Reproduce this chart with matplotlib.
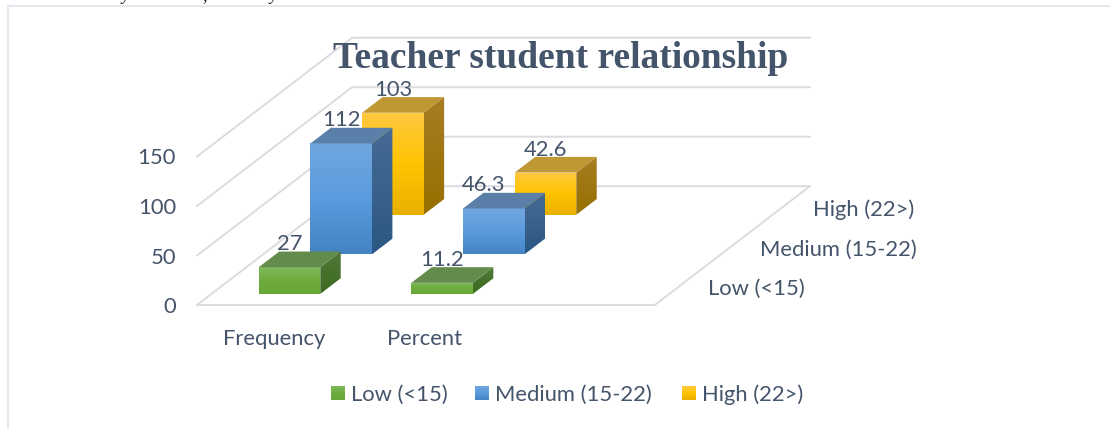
"""Teacher student relationship, oblique 3D column chart."""
import matplotlib
matplotlib.use('Agg')
import matplotlib.pyplot as plt
import numpy as np
from matplotlib.colors import LinearSegmentedColormap
from matplotlib.patches import Polygon

# Data
categories = ['Frequency', 'Percent']
series_names = ['Low (<15)', 'Medium (15-22)', 'High (22>)']
low = [27, 11.2]
medium = [112, 46.3]
high = [103, 42.6]
value_ticks = [0, 50, 100, 150]

# Colours: front gradient (top, mid, bottom), roof, side gradient (top, bottom)
front_cols = [['#80B85C', '#6DAC3D', '#68A836'],
              ['#70A6E0', '#5A9BDD', '#4484C4'],
              ['#FFC83F', '#FFC400', '#E9B000']]
roof_cols = ['#638B4C', '#5A7FA9', '#BF9733']
side_cols = [['#4F7838', '#3D6A20'], ['#466B94', '#2B5782'],
             ['#A67D22', '#967000']]
TEXT = '#44546A'
GRID = '#DCDCE0'
FONT = 'Lato'
FSIZE = 15.8
TEXT_DY = 2  # Lato sits a bit high with va='center'

# Projection of the scene to image pixels
X0, Y0 = 197, 305
CAT_DX = 152.6
ROW_DX, ROW_DY = 51.7, 39.6
V_SCALE = 0.99
BAR_X, BAR_W = 0.31, 0.403
BAR_Z, BAR_D = 0.28, 0.395
FLOOR_W = 3.0
N_ROWS = 3


def proj(x, z, v=0):
    """Category position x, row position z and value v to pixels."""
    return (X0 + x * CAT_DX + z * ROW_DX, Y0 - z * ROW_DY - v * V_SCALE)


def shade(ax, pts, colors, zorder):
    """Polygon filled with a vertical gradient."""
    pts = np.array(pts)
    cmap = LinearSegmentedColormap.from_list('g', colors)
    grad = np.linspace(0, 1, 64).reshape(-1, 1)
    im = ax.imshow(grad, cmap=cmap, aspect='auto', zorder=zorder,
                   extent=(pts[:, 0].min(), pts[:, 0].max(),
                           pts[:, 1].max(), pts[:, 1].min()))
    im.set_clip_path(Polygon(pts, closed=True, transform=ax.transData))


def bar(ax, x, z, v, s, zorder):
    """One column: front, roof and side face."""
    x1, z1 = x + BAR_W, z + BAR_D
    front = [proj(x, z, 0), proj(x1, z, 0), proj(x1, z, v), proj(x, z, v)]
    side = [proj(x1, z, 0), proj(x1, z1, 0), proj(x1, z1, v), proj(x1, z, v)]
    roof = [proj(x, z, v), proj(x1, z, v), proj(x1, z1, v), proj(x, z1, v)]
    shade(ax, front, front_cols[s], zorder)
    shade(ax, side, side_cols[s], zorder)
    ax.add_patch(Polygon(roof, closed=True, fc=roof_cols[s], ec='none',
                         zorder=zorder))


fig = plt.figure(figsize=(11.1, 4.29), dpi=100)
ax = fig.add_axes([0, 0, 1, 1])
ax.axis('off')

# Outer frame of the chart area
ax.plot([8, 8, 1110], [429, 5.5, 5.5], color='#E0E4EC', lw=1.2, zorder=1)

# Cut off line of the page text above the chart
for tx, tt in zip([122, 202, 269], ['y', ',', 'y']):
    ax.text(tx, 0, tt, family='Liberation Serif', style='italic',
            fontsize=13, color='#222222', ha='left', va='baseline',
            clip_on=True)

# Walls and floor
for t in value_ticks:
    ax.plot(*zip(proj(0, 0, t), proj(0, N_ROWS, t), proj(FLOOR_W, N_ROWS, t)),
            color=GRID, lw=1.4, zorder=1, solid_joinstyle='miter')
    ax.text(176, proj(0, 0, t)[1] + TEXT_DY, str(t), ha='right', va='center',
            family=FONT, fontsize=FSIZE, color=TEXT)
ax.plot(*zip(proj(0, 0), proj(FLOOR_W, 0), proj(FLOOR_W, N_ROWS)),
        color=GRID, lw=1.4, zorder=1, solid_joinstyle='miter')

# Columns, back row first
rows = [low, medium, high]
for c in range(len(categories)):
    for s in reversed(range(len(rows))):
        bar(ax, c + BAR_X, s + BAR_Z, rows[s][c], s, 5 + (2 - s) + 3 * c)

# Value labels
for c in range(len(categories)):
    for s in range(len(rows)):
        v = rows[s][c]
        px, py = proj(c + BAR_X + BAR_W / 2, s + BAR_Z, v)
        shift = -10 if (c, s) == (1, 1) else 0
        ax.text(px + shift, py - 25 + TEXT_DY, str(v), ha='center',
                va='center', family=FONT, fontsize=FSIZE, color=TEXT,
                zorder=20)

# Category and row labels
for c, name in enumerate(categories):
    ax.text(274 + c * 151, 337 + TEXT_DY, name, ha='center', va='center',
            family=FONT, fontsize=FSIZE, color=TEXT)
for s, name in enumerate(series_names):
    ax.text(708 + s * 52.5, 287 - s * 39.5 + TEXT_DY, name, ha='left',
            va='center', family=FONT, fontsize=FSIZE, color=TEXT)

# Legend
for s, (sx, name) in enumerate(zip([331, 475, 682], series_names)):
    shade(ax, [(sx, 386), (sx + 14, 386), (sx + 14, 400), (sx, 400)],
          front_cols[s], 5)
    ax.text(sx + 20, 393 + TEXT_DY, name, ha='left', va='center', family=FONT,
            fontsize=FSIZE, color=TEXT)

ax.text(561, 58, 'Teacher student relationship', ha='center', va='center',
        family='Liberation Serif', weight='bold', fontsize=27, color=TEXT,
        zorder=25)

ax.set_xlim(0, 1110)
ax.set_ylim(429, 0)
fig.savefig('out.png', dpi=100)
